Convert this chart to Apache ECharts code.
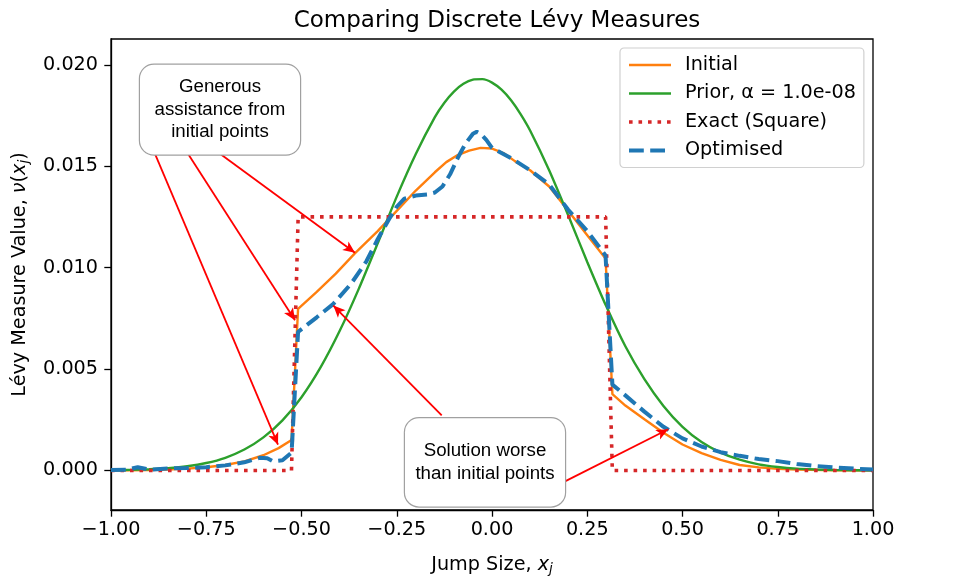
<!DOCTYPE html>
<html>
<head>
<meta charset="utf-8">
<script src="https://cdn.jsdelivr.net/npm/echarts@6/dist/echarts.min.js"></script>
<style>html,body{margin:0;padding:0;background:#fff}#c{width:958px;height:581px}</style>
</head>
<body>
<div id="c"></div>
<script>
// ---------------- data ----------------
const initialX = [-1.00,-0.95,-0.90,-0.85,-0.80,-0.75,-0.70,-0.65,-0.60,-0.56,-0.526,-0.509,-0.46,-0.41,-0.36,-0.30,-0.25,-0.20,-0.15,-0.12,-0.09,-0.06,-0.03,0.00,0.03,0.06,0.10,0.15,0.20,0.25,0.298,0.316,0.35,0.40,0.45,0.50,0.55,0.60,0.65,0.70,0.75,0.80,0.90,1.00];
const initialY = [0.00000,0.00001,0.00002,0.00005,0.00009,0.00016,0.00027,0.00045,0.00075,0.00110,0.00150,0.00797,0.00880,0.00970,0.01070,0.01180,0.01280,0.01380,0.01470,0.01520,0.01555,0.01577,0.01590,0.01587,0.01565,0.01525,0.01480,0.01400,0.01280,0.01160,0.01045,0.00376,0.00320,0.00252,0.00186,0.00128,0.00085,0.00052,0.00027,0.00015,0.00008,0.00004,0.00001,0.00000];

const priorX = [-1.00,-0.95,-0.90,-0.85,-0.80,-0.75,-0.70,-0.65,-0.60,-0.55,-0.50,-0.45,-0.40,-0.35,-0.30,-0.25,-0.20,-0.15,-0.125,-0.10,-0.075,-0.05,-0.025,0.00,0.025,0.05,0.075,0.10,0.15,0.20,0.25,0.30,0.35,0.40,0.45,0.50,0.55,0.60,0.65,0.70,0.75,0.80,0.85,0.90,0.95,1.00];
const priorY = [0.000014,0.00003,0.000058,0.000112,0.000206,0.000367,0.000625,0.00103,0.00163,0.00247,0.00361,0.00508,0.00687,0.00894,0.01120,0.01350,0.01560,0.01742,0.01813,0.01868,0.01906,0.01927,0.01929,0.01912,0.01877,0.01825,0.01757,0.01676,0.01480,0.01258,0.01028,0.00809,0.00612,0.00450,0.00318,0.00215,0.00140,0.00088,0.00053,0.00030,0.00017,0.00009,0.00005,0.00002,0.00001,0.000005];

const exactX = [-1.00,-0.5263,-0.5088,0.2982,0.3158,1.00];
const exactY = [0.0,0.0,0.0125,0.0125,0.0,0.0];

const optX = [-1.00,-0.96,-0.93,-0.90,-0.85,-0.80,-0.75,-0.70,-0.65,-0.61,-0.59,-0.575,-0.55,-0.526,-0.509,-0.46,-0.417,-0.37,-0.33,-0.30,-0.27,-0.25,-0.23,-0.20,-0.17,-0.15,-0.13,-0.11,-0.09,-0.07,-0.05,-0.04,-0.03,-0.015,0.00,0.05,0.10,0.15,0.20,0.25,0.298,0.316,0.35,0.40,0.45,0.50,0.55,0.60,0.65,0.70,0.75,0.80,0.85,0.90,0.95,1.00];
const optY = [0.00002,0.00003,0.00016,0.00004,0.00010,0.00012,0.00016,0.00025,0.00040,0.00062,0.00060,0.00045,0.00050,0.00088,0.00683,0.00755,0.00820,0.00920,0.01030,0.01140,0.01240,0.01300,0.01340,0.01355,0.01360,0.01370,0.01400,0.01460,0.01540,0.01610,0.01660,0.01670,0.01660,0.01630,0.01590,0.01540,0.01480,0.01410,0.01285,0.01180,0.01060,0.00423,0.00370,0.00290,0.00215,0.00158,0.00118,0.00090,0.00072,0.00056,0.00046,0.00032,0.00022,0.00015,0.00009,0.00005];

const xTicks = [-1.00,-0.75,-0.50,-0.25,0.00,0.25,0.50,0.75,1.00];
const yTicks = [0.000,0.005,0.010,0.015,0.020];

const seriesNames = ['Initial','Prior, \u03b1 = 1.0e-08','Exact (Square)','Optimised'];

// annotations (data coordinates)
const note1Text = 'Generous\nassistance from\ninitial points';
const note1At = [-0.7139, 0.01779];
const note2Text = 'Solution worse\nthan initial points';
const note2At = [-0.0184, 0.00040];
const arrowFrom = [[-0.8845,0.01561],[-0.7979,0.01561],[-0.7139,0.01561],[-0.1320,0.00272],[0.1916,-0.00054]];
const arrowTo   = [[-0.5617,0.00127],[-0.5171,0.00741],[-0.3596,0.01073],[-0.4165,0.00813],[0.4627,0.00203]];

// ---------------- chart ----------------
const zip = (xs, ys) => xs.map((x, i) => [x, ys[i]]);
const FONT = 'DejaVu Sans';
const chart = echarts.init(document.getElementById('c'), null, {renderer: 'canvas'});

const noteLabel = (text, padV) => ({
  show: true, position: 'inside', formatter: text,
  fontFamily: 'Liberation Sans', fontSize: 18.7, lineHeight: 22.6, color: '#000',
  align: 'center', verticalAlign: 'middle',
  backgroundColor: '#fff', borderColor: '#a0a0a0', borderWidth: 1.2, borderRadius: 14,
  width: 140, padding: [padV, 10]
});

const option = {
  animation: false,
  backgroundColor: '#fff',
  textStyle: {fontFamily: FONT},
  title: {
    text: 'Comparing Discrete L\u00e9vy Measures',
    left: 492, top: 5, textAlign: 'center',
    textStyle: {fontFamily: FONT, fontSize: 23, fontWeight: 'normal', color: '#000'}
  },
  grid: {left: 111, right: 85, top: 39, bottom: 66, show: true, borderColor: '#000', borderWidth: 1.3, backgroundColor: 'transparent'},
  legend: {
    data: seriesNames,
    orient: 'vertical', left: 620, top: 48,
    padding: [7, 8, 7, 7], itemGap: 8.5, itemWidth: 42, itemHeight: 14,
    itemStyle: {opacity: 0},
    lineStyle: {width: 'inherit'},
    backgroundColor: '#fff', borderColor: '#d0d0d0', borderWidth: 1.2, borderRadius: 4,
    textStyle: {fontFamily: FONT, fontSize: 19.2, color: '#000', lineHeight: 20, padding: [0, 0, 0, 9]}
  },
  xAxis: {
    type: 'value', min: -1, max: 1, interval: 0.25,
    name: 'Jump Size, {it|x}{sub|j}', nameLocation: 'middle', nameGap: 44,
    nameTextStyle: {fontFamily: FONT, fontSize: 19.2, color: '#000',
      rich: {it: {fontFamily: FONT, fontStyle: 'italic', fontSize: 19.2, color: '#000'},
             sub: {fontFamily: FONT, fontStyle: 'italic', fontSize: 13.5, color: '#000', verticalAlign: 'bottom', padding: [8, 0, 0, 0]}}},
    axisLine: {show: true, onZero: false, lineStyle: {color: '#000', width: 1.3}},
    axisTick: {show: true, length: 6.7, lineStyle: {color: '#000', width: 1.3}},
    axisLabel: {margin: 11, fontFamily: FONT, fontSize: 19.2, color: '#000',
      formatter: v => (v < -1e-9 ? '\u2212' : '') + Math.abs(v).toFixed(2)},
    splitLine: {show: false}
  },
  yAxis: {
    type: 'value', min: -0.00195, max: 0.02127,
    name: 'L\u00e9vy Measure Value, {it|\u03bd}({it|x}{sub|j})', nameLocation: 'middle', nameGap: 80,
    nameTextStyle: {fontFamily: FONT, fontSize: 19.2, color: '#000',
      rich: {it: {fontFamily: FONT, fontStyle: 'italic', fontSize: 19.2, color: '#000'},
             sub: {fontFamily: FONT, fontStyle: 'italic', fontSize: 13.5, color: '#000', verticalAlign: 'bottom', padding: [8, 0, 0, 0]}}},
    axisLine: {show: true, onZero: false, lineStyle: {color: '#000', width: 1.3}},
    axisTick: {show: true, length: 6.7, lineStyle: {color: '#000', width: 1.3}, customValues: yTicks},
    axisLabel: {margin: 13, fontFamily: FONT, fontSize: 19.2, color: '#000', customValues: yTicks,
      formatter: v => v.toFixed(3)},
    splitLine: {show: false}
  },
  series: [
    {name: seriesNames[0], type: 'line', data: zip(initialX, initialY), symbol: 'none', showSymbol: false,
     lineStyle: {color: '#ff7f0e', width: 2.4}, itemStyle: {color: '#ff7f0e'}},
    {name: seriesNames[1], type: 'line', data: zip(priorX, priorY), symbol: 'none', showSymbol: false, smooth: 0.2,
     lineStyle: {color: '#2ca02c', width: 2.4}, itemStyle: {color: '#2ca02c'}},
    {name: seriesNames[2], type: 'line', data: zip(exactX, exactY), symbol: 'none', showSymbol: false,
     lineStyle: {color: '#d62728', width: 3.6, type: [3.6, 5.9], cap: 'butt'}, itemStyle: {color: '#d62728'}},
    {name: seriesNames[3], type: 'line', data: zip(optX, optY), symbol: 'none', showSymbol: false,
     lineStyle: {color: '#1f77b4', width: 4, type: [14.8, 6.4], cap: 'butt'}, itemStyle: {color: '#1f77b4'}},
    {name: 'annotations', type: 'line', data: [], symbol: 'none', silent: true, z: 10,
     markLine: {
       silent: true, animation: false, symbol: ['none', 'arrow'], symbolSize: [8, 12],
       lineStyle: {color: '#ff0000', width: 1.8, type: 'solid'}, label: {show: false},
       emphasis: {disabled: true},
       data: arrowFrom.map((f, i) => [{coord: f}, {coord: arrowTo[i]}])
     },
     markPoint: {
       silent: true, animation: false,
       data: [
         {coord: note1At, symbol: 'rect', symbolSize: 1, itemStyle: {color: 'rgba(0,0,0,0)'}, label: noteLabel(note1Text, 11)},
         {coord: note2At, symbol: 'rect', symbolSize: 1, itemStyle: {color: 'rgba(0,0,0,0)'}, label: noteLabel(note2Text, 21.5)}
       ]
     }}
  ]
};
chart.setOption(option);
</script>
</body>
</html>
